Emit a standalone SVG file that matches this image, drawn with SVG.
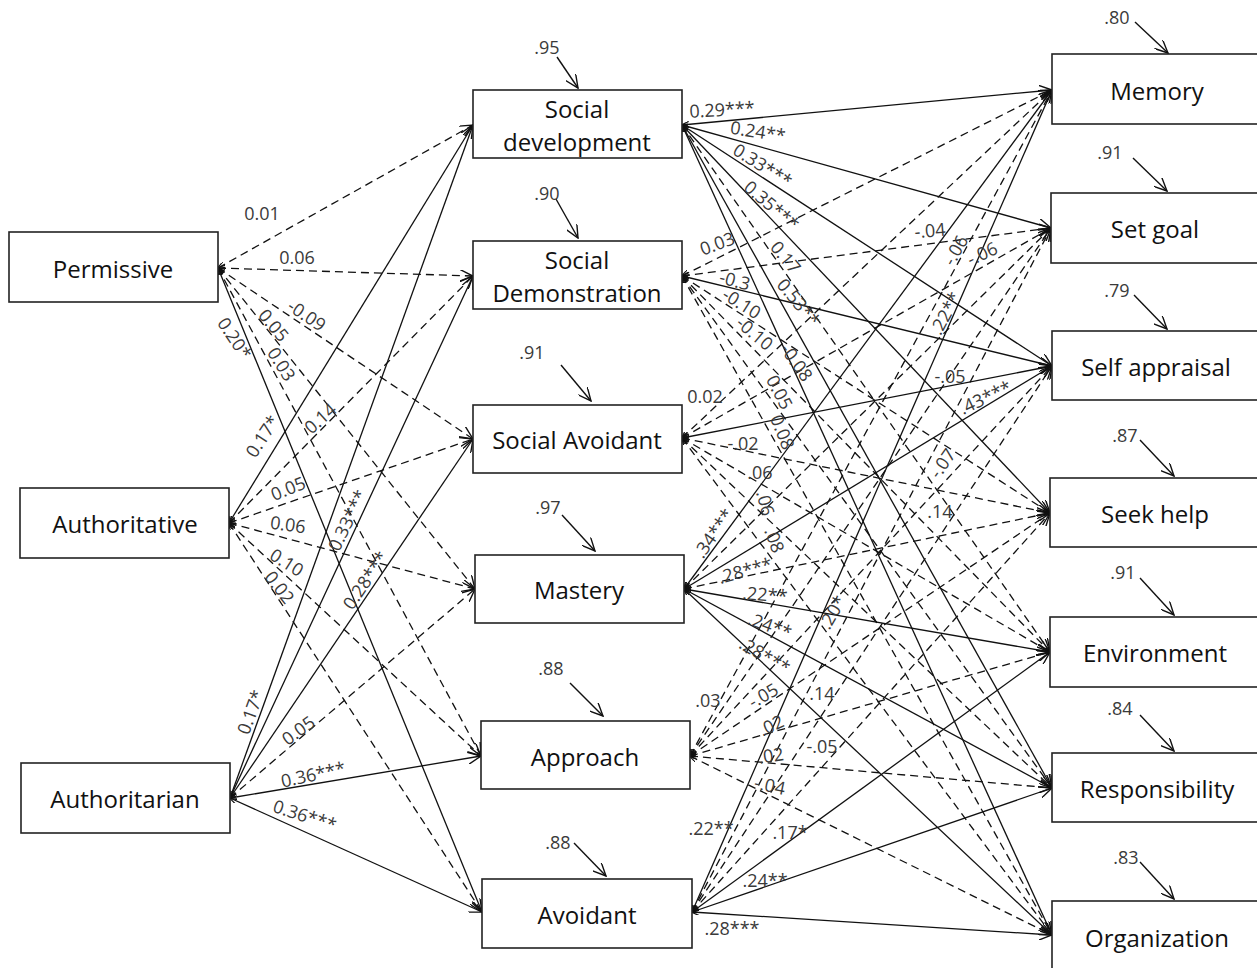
<svg xmlns="http://www.w3.org/2000/svg" width="1257" height="968" viewBox="0 0 1257 968">
<style>
.box{fill:#fff;stroke:#222;stroke-width:1.6}
.n{font-family:"Open Sans","Liberation Sans",sans-serif;font-size:24px;fill:#111;text-anchor:middle;dominant-baseline:central}
.l{font-family:"Open Sans","Liberation Sans",sans-serif;font-size:18px;fill:#3a3a3a;text-anchor:middle;dominant-baseline:central}
.s{stroke:#111;stroke-width:1.3;fill:none;marker-end:url(#ah);marker-start:url(#as)}
.d{stroke:#111;stroke-width:1.3;fill:none;stroke-dasharray:8 5;marker-end:url(#ah);marker-start:url(#as)}
.r{stroke:#111;stroke-width:1.4;fill:none;marker-end:url(#ah)}
</style>
<defs>
<marker id="ah" viewBox="0 0 14 12" refX="13" refY="6" markerWidth="14" markerHeight="12" orient="auto" markerUnits="userSpaceOnUse"><path d="M0,0 L13,6 L0,12" fill="none" stroke="#111" stroke-width="1.4"/></marker>
<marker id="as" viewBox="0 0 8 6" refX="7" refY="3" markerWidth="8" markerHeight="6" orient="auto-start-reverse" markerUnits="userSpaceOnUse"><path d="M0,0 L8,3 L0,6" fill="none" stroke="#111" stroke-width="1.2"/></marker>
</defs>
<rect width="1257" height="968" fill="#fff"/>
<g id="connectors">
<line class="d" x1="218" y1="268" x2="473" y2="125"/>
<line class="d" x1="218" y1="268" x2="473" y2="276"/>
<line class="d" x1="218" y1="268" x2="473" y2="439"/>
<line class="d" x1="218" y1="268" x2="475" y2="589"/>
<line class="d" x1="218" y1="268" x2="481" y2="756"/>
<line class="s" x1="218" y1="268" x2="482" y2="912"/>
<line class="s" x1="229" y1="523" x2="473" y2="125"/>
<line class="d" x1="229" y1="523" x2="473" y2="276"/>
<line class="d" x1="229" y1="523" x2="473" y2="439"/>
<line class="d" x1="229" y1="523" x2="475" y2="589"/>
<line class="d" x1="229" y1="523" x2="481" y2="756"/>
<line class="d" x1="229" y1="523" x2="482" y2="912"/>
<line class="s" x1="230" y1="798" x2="473" y2="125"/>
<line class="s" x1="230" y1="798" x2="473" y2="276"/>
<line class="s" x1="230" y1="798" x2="473" y2="439"/>
<line class="d" x1="230" y1="798" x2="475" y2="589"/>
<line class="s" x1="230" y1="798" x2="481" y2="756"/>
<line class="s" x1="230" y1="798" x2="482" y2="912"/>
<line class="s" x1="682" y1="125" x2="1052" y2="90"/>
<line class="s" x1="682" y1="125" x2="1051" y2="228"/>
<line class="s" x1="682" y1="125" x2="1052" y2="366"/>
<line class="s" x1="682" y1="125" x2="1050" y2="513"/>
<line class="d" x1="682" y1="125" x2="1050" y2="652"/>
<line class="s" x1="682" y1="125" x2="1052" y2="788"/>
<line class="s" x1="682" y1="125" x2="1052" y2="935"/>
<line class="d" x1="682" y1="276" x2="1052" y2="90"/>
<line class="d" x1="682" y1="276" x2="1051" y2="228"/>
<line class="s" x1="682" y1="276" x2="1052" y2="366"/>
<line class="d" x1="682" y1="276" x2="1050" y2="513"/>
<line class="d" x1="682" y1="276" x2="1050" y2="652"/>
<line class="d" x1="682" y1="276" x2="1052" y2="788"/>
<line class="d" x1="682" y1="276" x2="1052" y2="935"/>
<line class="d" x1="682" y1="438" x2="1052" y2="90"/>
<line class="d" x1="682" y1="438" x2="1051" y2="228"/>
<line class="s" x1="682" y1="438" x2="1052" y2="366"/>
<line class="d" x1="682" y1="438" x2="1050" y2="513"/>
<line class="d" x1="682" y1="438" x2="1050" y2="652"/>
<line class="d" x1="682" y1="438" x2="1052" y2="788"/>
<line class="d" x1="682" y1="438" x2="1052" y2="935"/>
<line class="s" x1="684" y1="589" x2="1052" y2="90"/>
<line class="d" x1="684" y1="589" x2="1051" y2="228"/>
<line class="s" x1="684" y1="589" x2="1052" y2="366"/>
<line class="d" x1="684" y1="589" x2="1050" y2="513"/>
<line class="s" x1="684" y1="589" x2="1050" y2="652"/>
<line class="s" x1="684" y1="589" x2="1052" y2="788"/>
<line class="s" x1="684" y1="589" x2="1052" y2="935"/>
<line class="d" x1="690" y1="756" x2="1052" y2="90"/>
<line class="d" x1="690" y1="756" x2="1051" y2="228"/>
<line class="d" x1="690" y1="756" x2="1052" y2="366"/>
<line class="d" x1="690" y1="756" x2="1050" y2="513"/>
<line class="d" x1="690" y1="756" x2="1050" y2="652"/>
<line class="d" x1="690" y1="756" x2="1052" y2="788"/>
<line class="d" x1="690" y1="756" x2="1052" y2="935"/>
<line class="s" x1="692" y1="912" x2="1052" y2="90"/>
<line class="d" x1="692" y1="912" x2="1051" y2="228"/>
<line class="d" x1="692" y1="912" x2="1052" y2="366"/>
<line class="d" x1="692" y1="912" x2="1050" y2="513"/>
<line class="s" x1="692" y1="912" x2="1050" y2="652"/>
<line class="s" x1="692" y1="912" x2="1052" y2="788"/>
<line class="s" x1="692" y1="912" x2="1052" y2="935"/>
<line class="r" x1="557" y1="57" x2="578" y2="88"/>
<line class="r" x1="556" y1="199" x2="578" y2="238"/>
<line class="r" x1="561" y1="365" x2="591" y2="401"/>
<line class="r" x1="562" y1="515" x2="595" y2="551"/>
<line class="r" x1="570" y1="683" x2="603" y2="716"/>
<line class="r" x1="574" y1="843" x2="606" y2="876"/>
<line class="r" x1="1135" y1="22" x2="1168" y2="53"/>
<line class="r" x1="1133" y1="158" x2="1167" y2="191"/>
<line class="r" x1="1134" y1="295" x2="1167" y2="329"/>
<line class="r" x1="1140" y1="440" x2="1174" y2="476"/>
<line class="r" x1="1140" y1="578" x2="1174" y2="615"/>
<line class="r" x1="1140" y1="715" x2="1174" y2="751"/>
<line class="r" x1="1140" y1="862" x2="1174" y2="899"/>
</g>
<g id="edge-labels">
<text class="l" x="262" y="213">0.01</text>
<text class="l" x="297" y="257">0.06</text>
<text class="l" transform="rotate(34 307 315)" x="307" y="315">-0.09</text>
<text class="l" transform="rotate(50 274 325)" x="274" y="325">0.05</text>
<text class="l" transform="rotate(58 282 364)" x="282" y="364">0.03</text>
<text class="l" transform="rotate(56 235 338)" x="235" y="338">0.20*</text>
<text class="l" transform="rotate(-57 262 436)" x="262" y="436">0.17*</text>
<text class="l" transform="rotate(-42 320 418)" x="320" y="418">0.14</text>
<text class="l" transform="rotate(-22 288 488)" x="288" y="488">0.05</text>
<text class="l" transform="rotate(8 288 524)" x="288" y="524">0.06</text>
<text class="l" transform="rotate(32 287 562)" x="287" y="562">0.10</text>
<text class="l" transform="rotate(52 280 587)" x="280" y="587">0.02</text>
<text class="l" transform="rotate(-70 250 712)" x="250" y="712">0.17*</text>
<text class="l" transform="rotate(-64 347 520)" x="347" y="520">0.33***</text>
<text class="l" transform="rotate(-56 365 580)" x="365" y="580">0.28***</text>
<text class="l" transform="rotate(-36 298 730)" x="298" y="730">0.05</text>
<text class="l" transform="rotate(-12 313 774)" x="313" y="774">0.36***</text>
<text class="l" transform="rotate(18 305 815)" x="305" y="815">0.36***</text>
<text class="l" transform="rotate(-3 722 109)" x="722" y="109">0.29***</text>
<text class="l" transform="rotate(9 758 131)" x="758" y="131">0.24**</text>
<text class="l" transform="rotate(32 763 165)" x="763" y="165">0.33***</text>
<text class="l" transform="rotate(40 772 205)" x="772" y="205">0.35***</text>
<text class="l" transform="rotate(50 786 257)" x="786" y="257">0.17</text>
<text class="l" transform="rotate(50 799 302)" x="799" y="302">0.53**</text>
<text class="l" transform="rotate(-20 717 243)" x="717" y="243">0.03</text>
<text class="l" transform="rotate(15 735 280)" x="735" y="280">-0.3</text>
<text class="l" transform="rotate(32 742 303)" x="742" y="303">-0.10</text>
<text class="l" transform="rotate(40 755 333)" x="755" y="333">-0.10</text>
<text class="l" transform="rotate(55 797 362)" x="797" y="362">-0.08</text>
<text class="l" transform="rotate(62 780 392)" x="780" y="392">0.05</text>
<text class="l" transform="rotate(68 783 432)" x="783" y="432">0.08</text>
<text class="l" x="705" y="396">0.02</text>
<text class="l" x="743" y="443">-.02</text>
<text class="l" x="760" y="472">.06</text>
<text class="l" transform="rotate(75 766 503)" x="766" y="503">.06</text>
<text class="l" transform="rotate(70 775 540)" x="775" y="540">.08</text>
<text class="l" transform="rotate(-55 713 533)" x="713" y="533">.34***</text>
<text class="l" transform="rotate(-15 745 570)" x="745" y="570">.28***</text>
<text class="l" transform="rotate(5 765 594)" x="765" y="594">.22**</text>
<text class="l" transform="rotate(20 770 625)" x="770" y="625">.24**</text>
<text class="l" transform="rotate(30 765 655)" x="765" y="655">.28***</text>
<text class="l" transform="rotate(-60 832 612)" x="832" y="612">.20*</text>
<text class="l" x="822" y="693">.14</text>
<text class="l" transform="rotate(-30 763 695)" x="763" y="695">-.05</text>
<text class="l" x="708" y="700">.03</text>
<text class="l" transform="rotate(-25 771 725)" x="771" y="725">.02</text>
<text class="l" transform="rotate(-8 771 755)" x="771" y="755">.02</text>
<text class="l" x="822" y="746">-.05</text>
<text class="l" transform="rotate(12 770 785)" x="770" y="785">-.04</text>
<text class="l" x="711" y="828">.22**</text>
<text class="l" x="790" y="832">.17*</text>
<text class="l" x="765" y="880">.24**</text>
<text class="l" x="732" y="928">.28***</text>
<text class="l" transform="rotate(-5 930 230)" x="930" y="230">-.04</text>
<text class="l" transform="rotate(-60 955 250)" x="955" y="250">-.06</text>
<text class="l" transform="rotate(-25 982 253)" x="982" y="253">-.06</text>
<text class="l" transform="rotate(-62 945 313)" x="945" y="313">.22**</text>
<text class="l" x="950" y="376">-.05</text>
<text class="l" transform="rotate(-25 985 397)" x="985" y="397">.43***</text>
<text class="l" transform="rotate(-55 942 463)" x="942" y="463">-.07</text>
<text class="l" x="940" y="511">.14</text>
</g>
<g id="residuals">
<text class="l" x="547" y="47">.95</text>
<text class="l" x="547" y="193">.90</text>
<text class="l" x="532" y="352">.91</text>
<text class="l" x="548" y="507">.97</text>
<text class="l" x="551" y="668">.88</text>
<text class="l" x="558" y="842">.88</text>
<text class="l" x="1117" y="17">.80</text>
<text class="l" x="1110" y="152">.91</text>
<text class="l" x="1117" y="290">.79</text>
<text class="l" x="1125" y="435">.87</text>
<text class="l" x="1123" y="572">.91</text>
<text class="l" x="1120" y="708">.84</text>
<text class="l" x="1126" y="857">.83</text>
</g>
<g id="permissive"><rect class="box" x="9" y="232" width="209" height="70"/><text class="n" x="113" y="268">Permissive</text></g>
<g id="authoritative"><rect class="box" x="20" y="488" width="209" height="70"/><text class="n" x="125" y="523">Authoritative</text></g>
<g id="authoritarian"><rect class="box" x="21" y="763" width="209" height="70"/><text class="n" x="125" y="798">Authoritarian</text></g>
<g id="social-development"><rect class="box" x="473" y="90" width="209" height="68"/><text class="n" x="577" y="108">Social</text><text class="n" x="577" y="141">development</text></g>
<g id="social-demonstration"><rect class="box" x="473" y="241" width="209" height="68"/><text class="n" x="577" y="259">Social</text><text class="n" x="577" y="292">Demonstration</text></g>
<g id="social-avoidant"><rect class="box" x="473" y="405" width="209" height="68"/><text class="n" x="577" y="439">Social Avoidant</text></g>
<g id="mastery"><rect class="box" x="475" y="555" width="209" height="68"/><text class="n" x="579" y="589">Mastery</text></g>
<g id="approach"><rect class="box" x="481" y="721" width="209" height="68"/><text class="n" x="585" y="756">Approach</text></g>
<g id="avoidant"><rect class="box" x="482" y="879" width="210" height="69"/><text class="n" x="587" y="914">Avoidant</text></g>
<g id="memory"><rect class="box" x="1052" y="54" width="212" height="70"/><text class="n" x="1157" y="90">Memory</text></g>
<g id="set-goal"><rect class="box" x="1051" y="193" width="212" height="70"/><text class="n" x="1155" y="228">Set goal</text></g>
<g id="self-appraisal"><rect class="box" x="1052" y="331" width="212" height="69"/><text class="n" x="1156" y="366">Self appraisal</text></g>
<g id="seek-help"><rect class="box" x="1050" y="478" width="212" height="69"/><text class="n" x="1155" y="513">Seek help</text></g>
<g id="environment"><rect class="box" x="1050" y="617" width="212" height="70"/><text class="n" x="1155" y="652">Environment</text></g>
<g id="responsibility"><rect class="box" x="1052" y="753" width="212" height="69"/><text class="n" x="1157" y="788">Responsibility</text></g>
<g id="organization"><rect class="box" x="1052" y="901" width="212" height="75"/><text class="n" x="1157" y="937">Organization</text></g>
</svg>
